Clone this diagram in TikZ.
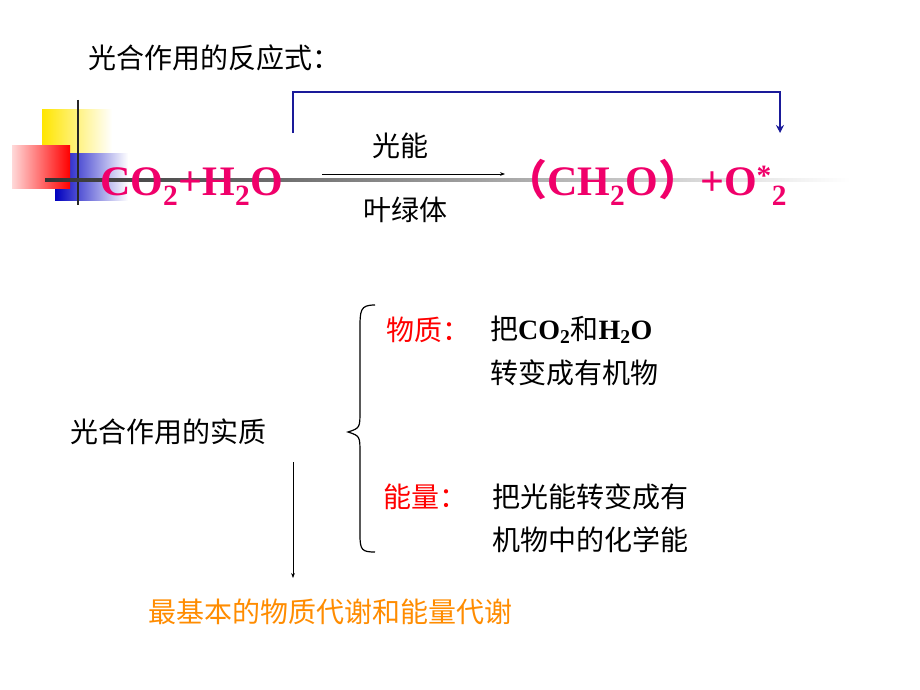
\documentclass[tikz,border=0pt]{standalone}
\usepackage{fontspec}
\setmainfont{Liberation Serif}
\newfontfamily\cjk{Noto Sans CJK SC}
\usetikzlibrary{arrows.meta}
\definecolor{pk}{HTML}{F0006A}
\definecolor{nv}{HTML}{1A1A99}
\definecolor{og}{HTML}{FF8C00}
\begin{document}
\begin{tikzpicture}[x=1pt,y=-1pt,
  cn/.style={font=\cjk\fontsize{28}{30}\selectfont,inner sep=0,anchor=west},
  fm/.style={font=\bfseries\fontsize{42}{44}\selectfont,text=pk,inner sep=0,anchor=base west}]
\useasboundingbox (0,0) rectangle (920,690);
\fill[white] (0,0) rectangle (920,690);
% decoration
\shade[left color=yellow!80!orange, right color=white] (42,110) rectangle (112,180);
\shade[left color=blue!75!black, right color=white] (55,153) rectangle (128,200);
\shade[left color=red!15, right color=red] (12,145) rectangle (70,188);
\draw[line width=2pt,black!85] (78,100) -- (78,205);
\shade[left color=black!80,right color=white] (45,178.5) rectangle (850,181.5);
% title
\node[cn] (t) at (88,58) {光合作用的反应式：};
% formula
\node[fm] (r) at (100,195) {CO\textsubscript{2}+H\textsubscript{2}O};
\node[fm] (p) at (505,195) {\cjk（\rmfamily CH\textsubscript{2}O\cjk）\rmfamily+O\textsuperscript{*}\textsubscript{2}};
\coordinate (a1) at (322,174);
\coordinate (a2) at (505,174);
\draw[line width=1pt,-{Stealth[length=5pt]}] (a1) -- (a2);
\node[cn,anchor=center] (gn) at (400,146) {光能};
\node[cn,anchor=center] (ylt) at (405,210) {叶绿体};
% blue bracket arrow
\coordinate (b1) at (293,133);
\coordinate (b2) at (293,92);
\coordinate (b3) at (780,92);
\coordinate (b4) at (780,133);
\draw[nv,line width=2.5pt,-{Stealth[length=8pt,width=8pt]}] (b1) -- (b2) -- (b3) -- (b4);
% essence
\node[cn] (ess) at (70,432) {光合作用的实质};
\draw[line width=1.2pt] (375,305) .. controls (360,305) and (360,310) .. (360,330) -- (360,410) .. controls (360,428) .. (348,432) .. controls (360,436) .. (360,454) -- (360,535) .. controls (360,550) and (362,552) .. (375,552);
\node[cn,text=red] (wz) at (386,330) {物质：};
\node[inner sep=0,anchor=west,font=\fontsize{28}{30}\selectfont] (wz2) at (490,330) {\cjk 把\rmfamily\bfseries CO\textsubscript{2}\cjk\mdseries 和\rmfamily\bfseries H\textsubscript{2}O};
\node[cn] (wz3) at (490,373) {转变成有机物};
\node[cn,text=red] (nl) at (383,497) {能量：};
\node[cn] (nl2) at (492,497) {把光能转变成有};
\node[cn] (nl3) at (492,540) {机物中的化学能};
\coordinate (d1) at (293,462);
\coordinate (d2) at (293,578);
\draw[line width=0.6pt,-{Stealth[length=5pt]}] (d1) -- (d2);
\node[cn,text=og] (zj) at (148,612) {最基本的物质代谢和能量代谢};
\end{tikzpicture}
\end{document}
